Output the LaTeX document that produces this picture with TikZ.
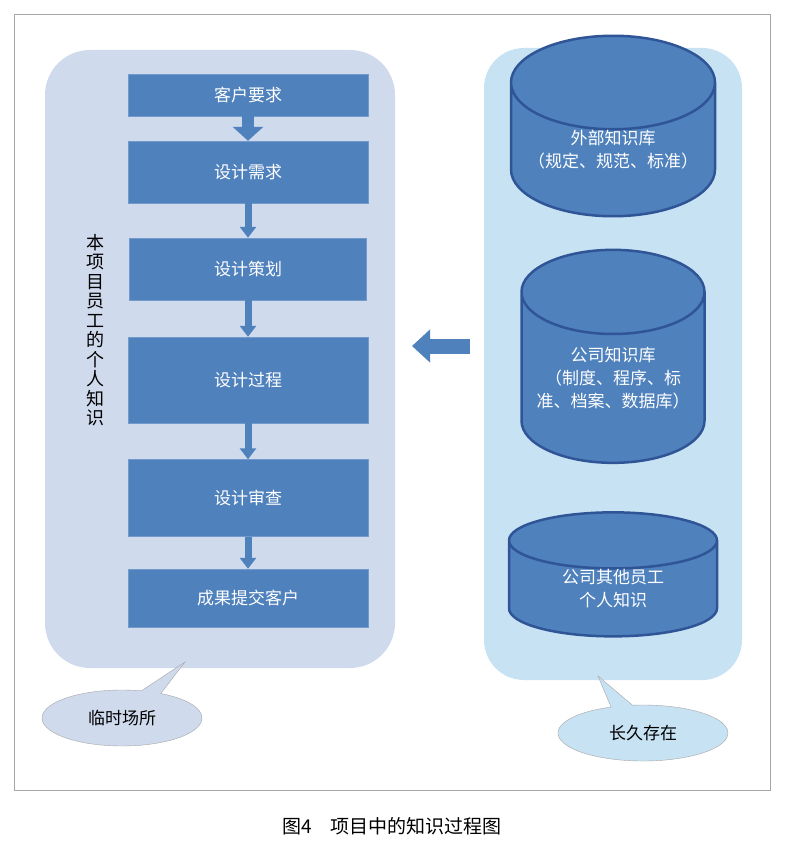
\documentclass[tikz,border=0pt]{standalone}
\usepackage{fontspec}
\setmainfont{Noto Sans CJK SC}
\usetikzlibrary{shapes.geometric,shapes.callouts,arrows.meta}
\definecolor{boxblue}{HTML}{4F81BD}
\definecolor{darkblue}{HTML}{2F5597}
\definecolor{leftbg}{HTML}{CFDAEC}
\definecolor{rightbg}{HTML}{C6E2F3}
\tikzset{
  stage/.style={fill=boxblue,draw=boxblue!80!white,text=white,minimum width=240pt,font=\fontsize{17}{20}\selectfont,inner sep=0pt},
  store/.style={cylinder,shape border rotate=90,aspect=0.55,draw=darkblue,line width=2.5pt,fill=boxblue,text=white,align=center,font=\fontsize{17}{23}\selectfont,inner sep=0pt},
  down/.style={draw=boxblue,line width=7pt,-{Triangle[width=16pt,length=11pt]}},
  bubble/.style={ellipse callout,draw=gray!70,fill=leftbg,font=\fontsize{17}{20}\selectfont,minimum width=160pt,minimum height=56pt}
}
\begin{document}
\begin{tikzpicture}[x=1pt,y=-1pt]
  \useasboundingbox (0,0) rectangle (785,850);
  \draw[gray!70,line width=.6pt] (14,14) rectangle (770,790);
  \fill[leftbg,rounded corners=45pt] (45,50) rectangle (395,668);
  \fill[rightbg,rounded corners=40pt] (484,48) rectangle (742,680);
  % steps of the project
  \node[stage,minimum height=42pt] (req) at (248,95) {客户要求};
  \node[stage,minimum height=62pt] (need) at (248,172) {设计需求};
  \node[stage,minimum height=62pt,minimum width=237pt] (plan) at (248,269) {设计策划};
  \node[stage,minimum height=86pt] (proc) at (248,380) {设计过程};
  \node[stage,minimum height=77pt] (rev) at (248,498) {设计审查};
  \node[stage,minimum height=58pt] (out) at (248,598) {成果提交客户};
  \draw[draw=boxblue,line width=12pt,-{Triangle[width=30pt,length=14pt]}] (req) -- (need);
  \draw[down] (need) -- (plan);
  \draw[down] (plan) -- (proc);
  \draw[down] (proc) -- (rev);
  \draw[down] (rev) -- (out);
  \node[align=center,font=\fontsize{18}{19.5}\selectfont] (staff) at (95,330) {本\\项\\目\\员\\工\\的\\个\\人\\知\\识};
  % knowledge stores
  \node[store,minimum width=204pt,minimum height=155pt] (ext) at (613,150) {外部知识库\\（规定、规范、标准）};
  \node[store,minimum width=183pt,minimum height=213pt] (comp) at (613,378) {公司知识库\\（制度、程序、标\\准、档案、数据库）};
  \node[store,minimum width=208pt,minimum height=122pt] (other) at (613,589) {公司其他员工\\个人知识};
  \coordinate (src) at (470,346);
  \coordinate (dst) at (412,346);
  \draw[draw=boxblue,line width=15pt,-{Triangle[width=32pt,length=18pt]}] (src) -- (dst);
  % callouts
  \node[bubble,callout absolute pointer={(185,662)}] (temp) at (122,718) {临时场所};
  \node[bubble,fill=rightbg,callout absolute pointer={(598,676)},minimum width=170pt] (perm) at (643,733) {长久存在};
  \node[font=\fontsize{19}{21}\selectfont] (cap) at (392,826) {图4\quad 项目中的知识过程图};
\end{tikzpicture}
\end{document}
